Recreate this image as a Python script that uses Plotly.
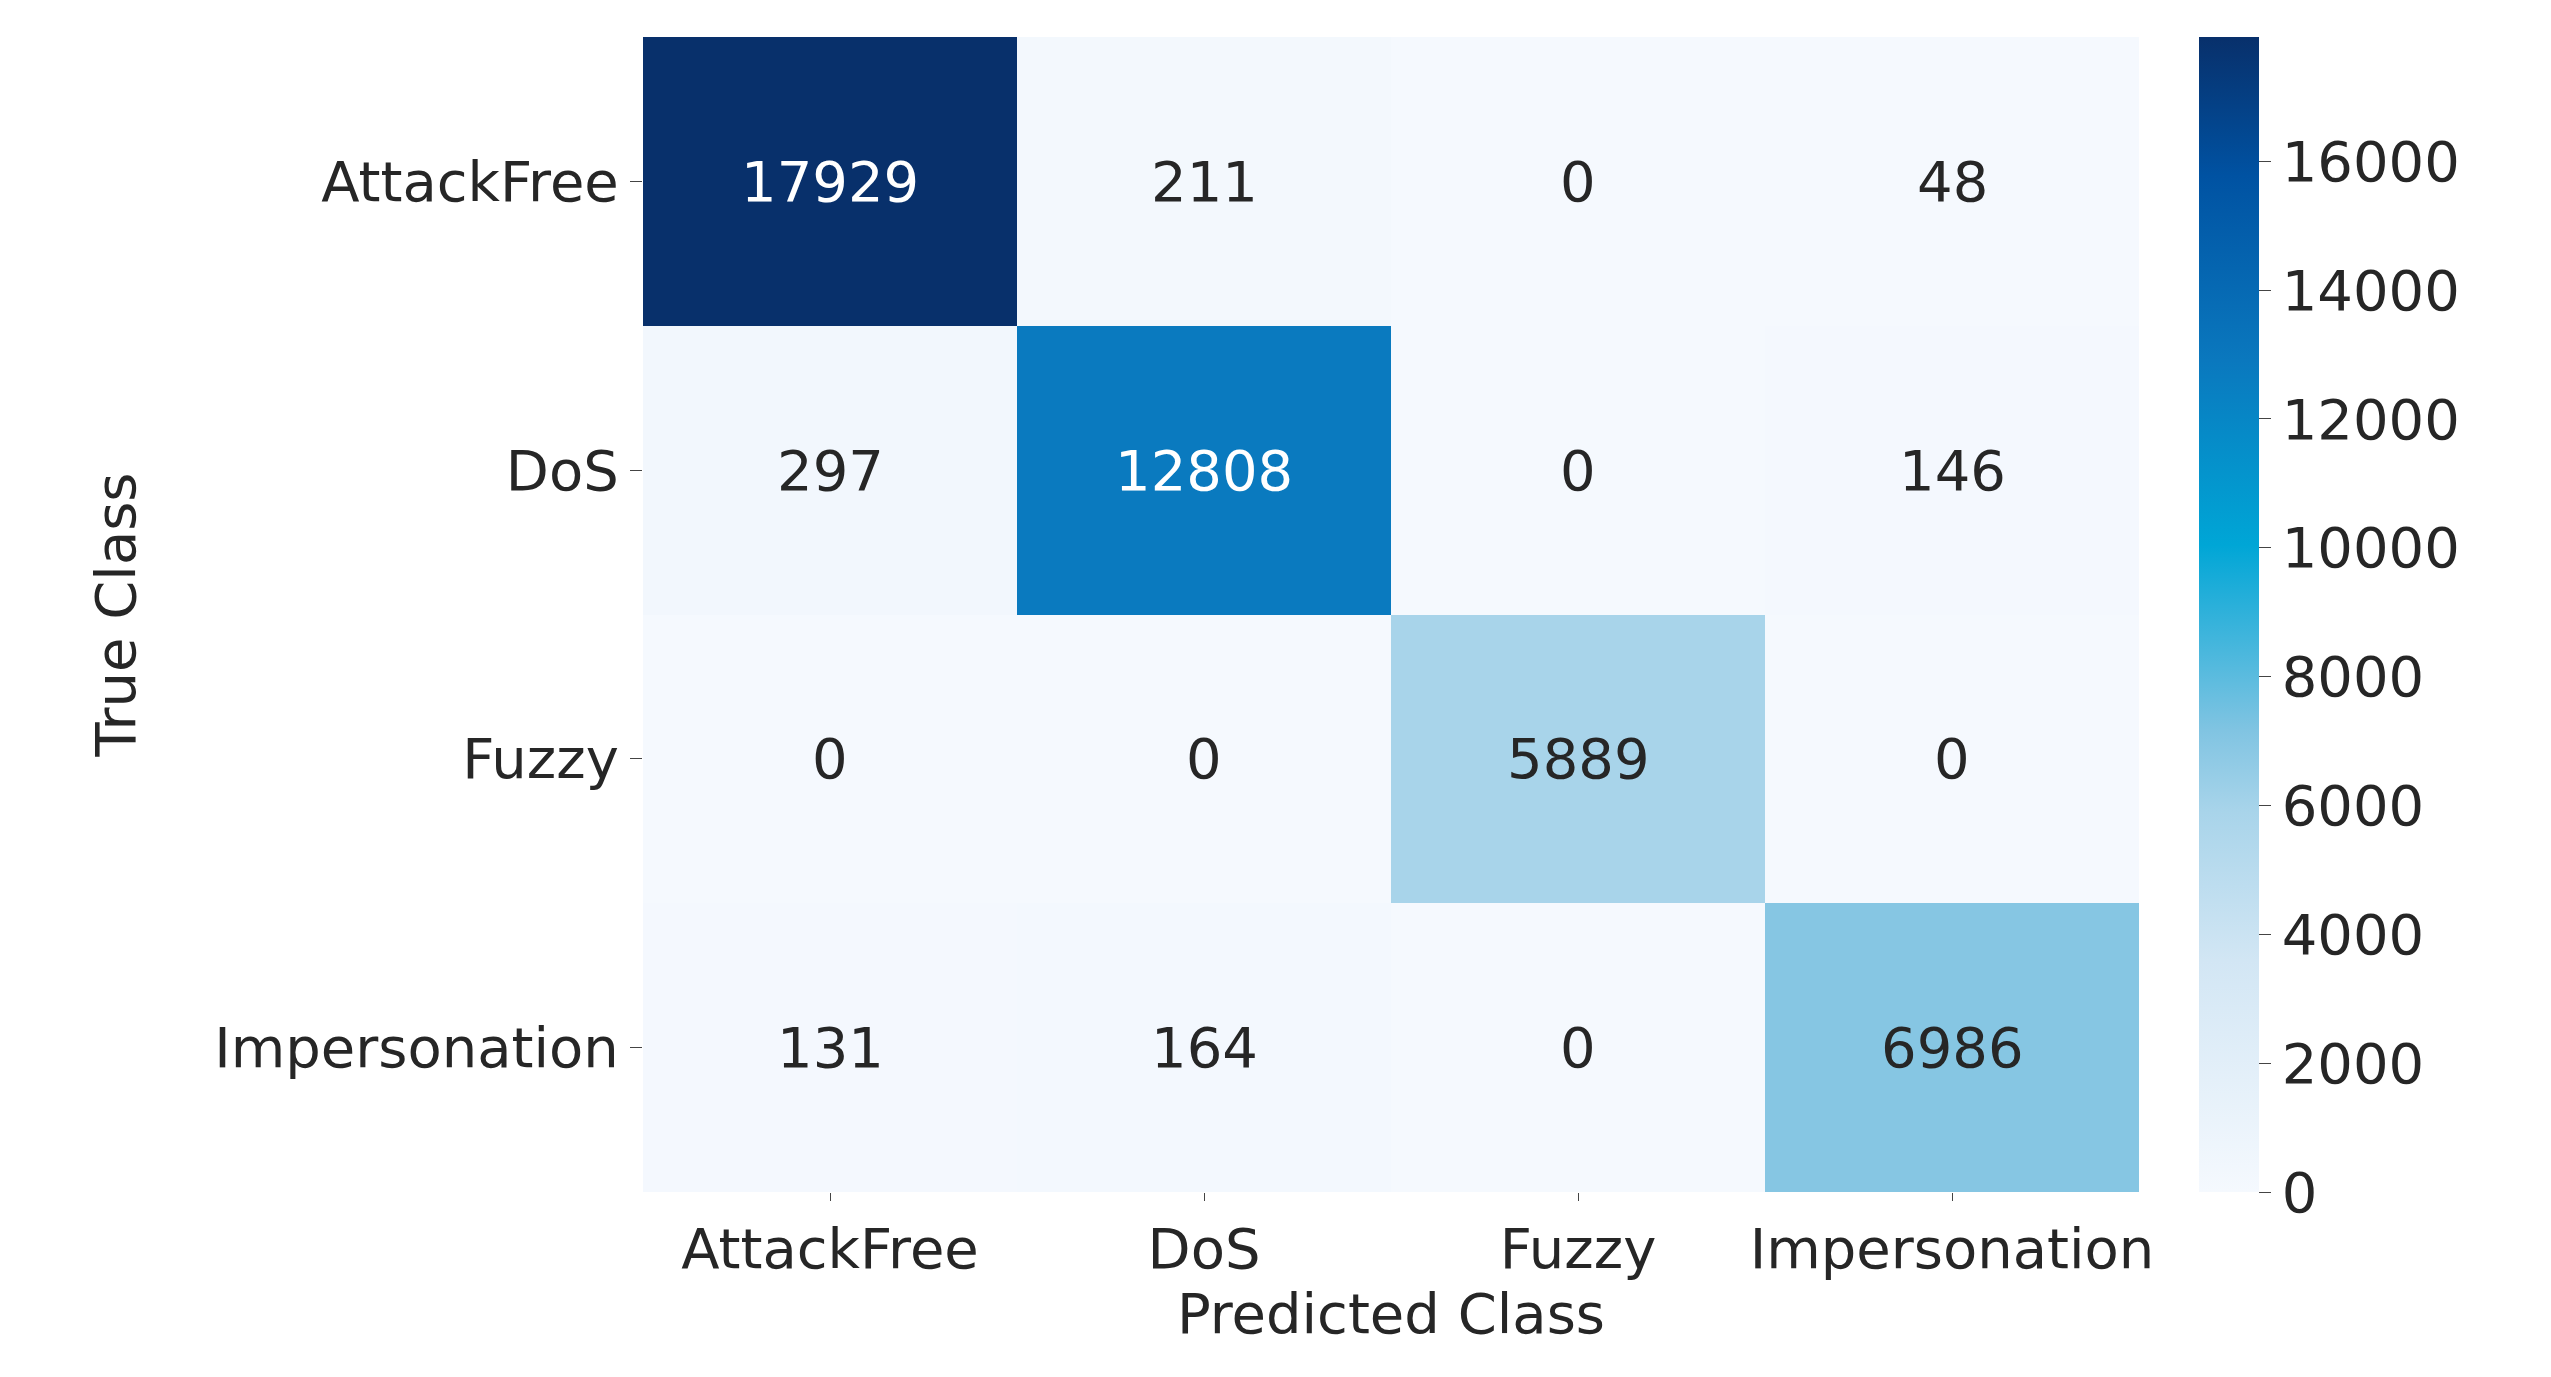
import plotly.graph_objects as go

classes = ["AttackFree", "DoS", "Fuzzy", "Impersonation"]
values = [
    [17929, 211, 0, 48],
    [297, 12808, 0, 146],
    [0, 0, 5889, 0],
    [131, 164, 0, 6986],
]
cbar_ticks = [0, 2000, 4000, 6000, 8000, 10000, 12000, 14000, 16000]

scale = [[0, "#f5f9fe"], [0.2, "#d2e6f4"], [0.33, "#a8d4ea"], [0.4, "#80c4e2"],
         [0.56, "#00a6d6"], [0.72, "#0a78be"], [0.88, "#0052a2"], [1, "#08306b"]]

fig = go.Figure(go.Heatmap(
    z=values, x=classes, y=classes, colorscale=scale, zmin=0, zmax=17929,
    xgap=0, ygap=0, showscale=True,
    colorbar=dict(thickness=60, len=1.0, y=0.5, yanchor="middle", x=1.04, xpad=0, ypad=0,
                  tickvals=cbar_ticks, tickformat="d", ticks="outside", ticklen=12, outlinewidth=0,
                  tickfont=dict(size=56, color="#262626", family="DejaVu Sans")),
))
maxv = 17929
for i, row in enumerate(values):
    for j, v in enumerate(row):
        fig.add_annotation(x=classes[j], y=classes[i], text=str(v), showarrow=False,
                           font=dict(size=56, family="DejaVu Sans",
                                     color="white" if v > maxv * 0.6 else "#262626"))

fig.update_layout(
    width=2551, height=1377, plot_bgcolor="white", paper_bgcolor="white",
    margin=dict(l=635, r=420, t=29, b=193),
    font=dict(family="DejaVu Sans", color="#262626"),
)
fig.update_xaxes(title=dict(text="Predicted Class", font=dict(size=56), standoff=0),
                 tickfont=dict(size=56), ticks="outside", ticklen=8, showgrid=False)
fig.update_yaxes(title=dict(text="True Class", font=dict(size=56), standoff=60),
                 tickfont=dict(size=56), ticks="outside", ticklen=12, showgrid=False,
                 autorange="reversed")
fig.write_html("out.html")
